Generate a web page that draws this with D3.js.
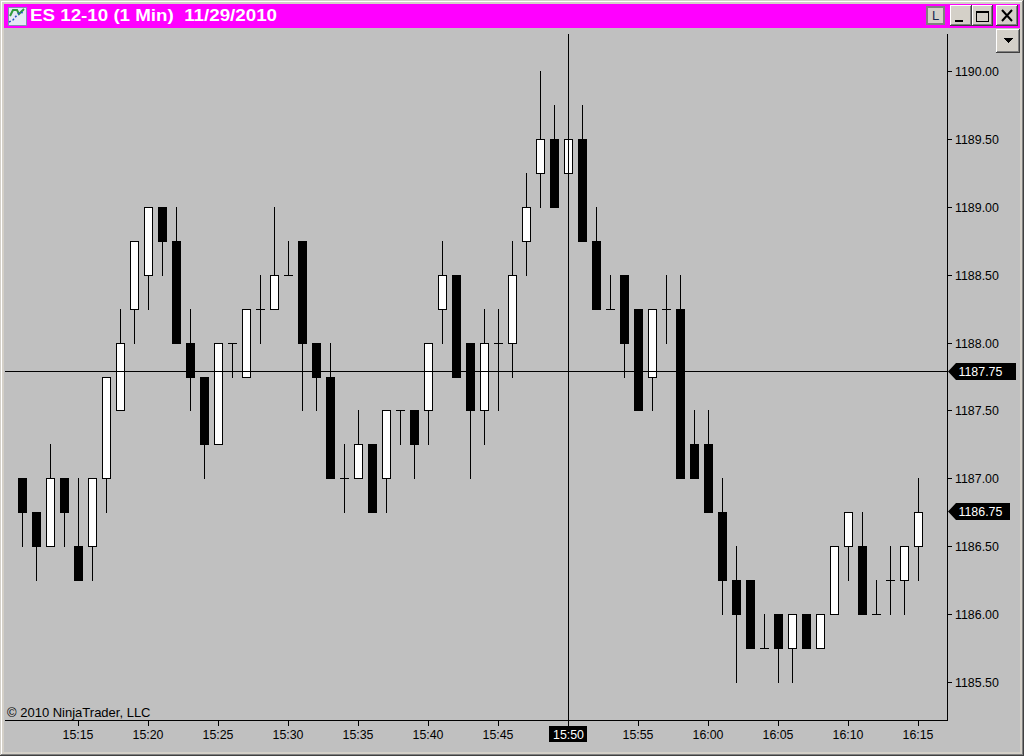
<!DOCTYPE html>
<html><head><meta charset="utf-8">
<script src="https://cdn.jsdelivr.net/npm/d3@7"></script>
<style>html,body{margin:0;padding:0;background:#000;}svg{display:block;}text{font-family:"Liberation Sans",Arial,sans-serif;}</style>
</head><body>
<script>
const title = "ES 12-10 (1 Min)  11/29/2010";
const copyright = "© 2010 NinjaTrader, LLC";
const firstMinute = 15*60+11;
const opens  = [1187,1186.75,1186.5,1187,1186.5,1186.5,1187,1187.5,1188.25,1188.5,1189,1188.75,1188,1187.75,1187.25,1188,1187.75,1188.25,1188.25,1188.5,1188.75,1188,1187.75,1187,1187,1187.25,1187,1187.5,1187.5,1187.5,1188.25,1188.5,1188,1187.5,1188,1188,1188.75,1189.25,1189.5,1189.25,1189.5,1188.75,1188.25,1188.5,1188.25,1187.75,1188.25,1188.25,1187.25,1187.25,1186.75,1186.25,1186.25,1185.75,1186,1185.75,1186,1185.75,1186,1186.5,1186.5,1186,1186.25,1186.25,1186.5];
const highs  = [1187,1186.75,1187.25,1187,1187,1187,1187.75,1188.25,1188.75,1189,1189,1189,1188.25,1187.75,1188,1188,1188.25,1188.5,1189,1188.75,1188.75,1188,1188,1187.25,1187.5,1187.25,1187.5,1187.5,1187.5,1188,1188.75,1188.5,1188,1188.25,1188.25,1188.75,1189.25,1190,1189.75,1189.5,1189.75,1189,1188.5,1188.5,1188.25,1188.25,1188.5,1188.5,1187.5,1187.5,1187,1186.5,1186.25,1186,1186,1186,1186,1186,1186.5,1186.75,1186.75,1186.25,1186.5,1186.5,1187];
const lows   = [1186.5,1186.25,1186.5,1186.5,1186.25,1186.25,1186.75,1187.5,1188,1188.25,1188.5,1188,1187.5,1187,1187.25,1187.75,1187.75,1188,1188.25,1188.5,1187.5,1187.5,1187,1186.75,1187,1186.75,1186.75,1187.25,1187,1187.25,1188,1187.75,1187,1187.25,1187.5,1187.75,1188.5,1189,1189,1189.25,1188.75,1188.25,1188.25,1187.75,1187.5,1187.5,1188,1187,1187,1186.75,1186,1185.5,1185.75,1185.75,1185.5,1185.5,1185.75,1185.75,1186,1186.25,1186,1186,1186,1186,1186.25];
const closes = [1186.75,1186.5,1187,1186.75,1186.25,1187,1187.75,1188,1188.75,1189,1188.75,1188,1187.75,1187.25,1188,1188,1188.25,1188.25,1188.5,1188.5,1188,1187.75,1187,1187,1187.25,1186.75,1187.5,1187.5,1187.25,1188,1188.5,1187.75,1187.5,1188,1188,1188.5,1189,1189.5,1189,1189.5,1188.75,1188.25,1188.25,1188,1187.5,1188.25,1188.25,1187,1187,1186.75,1186.25,1186,1185.75,1185.75,1185.75,1186,1185.75,1186,1186.5,1186.75,1186,1186,1186.25,1186.5,1186.75];
const priceTicks = [1190,1189.5,1189,1188.5,1188,1187.5,1187,1186.5,1186,1185.5];
const timeTicks = ["15:15","15:20","15:25","15:30","15:35","15:40","15:45","15:50","15:55","16:00","16:05","16:10","16:15"];
const crossPrice = 1187.79, crossLabel = 1187.75, crossTime = "15:50", lastPrice = 1186.75;

const toMin = s => { const [h,m]=s.split(":").map(Number); return h*60+m; };
const fmtMin = m => `${Math.floor(m/60)}:${String(m%60).padStart(2,"0")}`;

const W=1024,H=756;
const svg=d3.select("body").append("svg").attr("width",W).attr("height",H).attr("viewBox",`0 0 ${W} ${H}`).attr("shape-rendering","crispEdges");
const x=d3.scaleLinear().domain([firstMinute,toMin("16:15")]).range([22,918]);
const yRaw=d3.scaleLinear().domain([1190,1185.5]).range([71,682]);
const y=p=>Math.round(yRaw(p));
const X=m=>Math.round(x(m));
const axisX=947, axisY=720, plotLeft=5, plotTop=34, labelSize=12.4;

// window frame
const rect=(a,b,w,h,f)=>svg.append("rect").attr("x",a).attr("y",b).attr("width",w).attr("height",h).attr("fill",f);
rect(0,0,W,H,"#d4d0c8");
rect(1,1,W-2,1,"#ffffff");rect(1,1,1,H-2,"#ffffff");
rect(W-1,0,1,H,"#404040");rect(0,H-1,W,1,"#404040");rect(W-2,1,1,H-2,"#808080");rect(1,H-2,W-2,1,"#808080");
rect(4,4,W-8,24,"#ff00ff");
rect(4,28,W-8,H-32,"#c0c0c0");

// title
svg.append("text").attr("x",30).attr("y",21).attr("fill","#fff").attr("font-weight","bold").attr("font-size",16).style("white-space","pre").attr("textLength",247).attr("lengthAdjust","spacingAndGlyphs").text(title);

// icon
const icon=svg.append("g").attr("transform","translate(8,7)");
icon.append("rect").attr("width",18).attr("height",18).attr("fill","#e4e8f4").attr("stroke","#8090b0").attr("x",.5).attr("y",.5);
icon.append("path").attr("d","M2 9 L5 3 L9 3 L11 7 L16 2").attr("fill","none").attr("stroke","#2f9a3a").attr("stroke-width",2).attr("shape-rendering","auto");
icon.append("path").attr("d","M1 15 L5 13 L9 8 L12 5 L15 6").attr("fill","none").attr("stroke","#2050c0").attr("stroke-width",1.5).attr("stroke-dasharray","2 2").attr("shape-rendering","auto");

// buttons
function btn(a,b,w,h){
  rect(a,b,w,h,"#404040");rect(a,b,w-1,h-1,"#ffffff");rect(a+1,b+1,w-2,h-2,"#808080");rect(a+1,b+1,w-3,h-3,"#d4d0c8");
}
rect(926,6,19,19,"#808080");rect(928,8,15,15,"#d4d0c8");
svg.append("text").attr("x",935.5).attr("y",20).attr("text-anchor","middle").attr("font-size",13).attr("fill","#1a2a50").text("L");
btn(950,5,22,21);rect(955,20,8,2,"#000");
btn(972,5,21,21);rect(976,11,13,2,"#000");svg.append("rect").attr("x",976.5).attr("y",11.5).attr("width",12).attr("height",10).attr("fill","none").attr("stroke","#000");
btn(996,5,22,21);
svg.append("path").attr("d","M1002 10 L1012 21 M1012 10 L1002 21").attr("stroke","#000").attr("stroke-width",2).attr("shape-rendering","auto");
btn(996,29,24,24);svg.append("path").attr("d","M1004 38 L1013 38 L1008.5 43 Z").attr("fill","#000");

// copyright
svg.append("text").attr("x",7).attr("y",717).attr("font-size",13).attr("fill","#000").text(copyright);

// candles
const bars=d3.range(opens.length).map(i=>({m:firstMinute+i,o:opens[i],h:highs[i],l:lows[i],c:closes[i]}));
const g=svg.append("g");
g.selectAll("rect.wick").data(bars).join("rect").attr("class","wick")
  .attr("x",d=>X(d.m)).attr("width",1).attr("y",d=>y(d.h)).attr("height",d=>y(d.l)-y(d.h)+1).attr("fill","#000");
g.selectAll("rect.body").data(bars.filter(d=>d.o!==d.c)).join("rect").attr("class","body")
  .attr("x",d=>X(d.m)-4).attr("width",9)
  .attr("y",d=>y(Math.max(d.o,d.c))).attr("height",d=>y(Math.min(d.o,d.c))-y(Math.max(d.o,d.c))+1)
  .attr("fill","#000");
g.selectAll("rect.inner").data(bars.filter(d=>d.c>d.o)).join("rect").attr("class","inner")
  .attr("x",d=>X(d.m)-3).attr("width",7)
  .attr("y",d=>y(d.c)+1).attr("height",d=>y(d.o)-y(d.c)-1).attr("fill","#fff");
g.selectAll("rect.doji").data(bars.filter(d=>d.o===d.c)).join("rect").attr("class","doji")
  .attr("x",d=>X(d.m)-4).attr("width",9).attr("y",d=>y(d.c)).attr("height",1).attr("fill","#000");

// crosshair
rect(plotLeft,y(crossPrice),axisX-plotLeft,1,"#000");
rect(X(toMin(crossTime)),plotTop,1,axisY-plotTop,"#000");

// axes
const yAxis=svg.append("g").attr("transform",`translate(${axisX},0)`)
  .call(d3.axisRight(yRaw).tickValues(priceTicks).tickFormat(d3.format(".2f")).tickSize(5).tickPadding(3));
yAxis.select(".domain").remove();
yAxis.selectAll("text").attr("font-size",labelSize).attr("fill","#000").attr("font-family","Liberation Sans").attr("dy",0).attr("y",5);
yAxis.selectAll(".tick").attr("transform",d=>`translate(0,${y(d)})`);
yAxis.selectAll("line").attr("stroke","#000").attr("y1",.5).attr("y2",.5).attr("x1",0.5);
rect(axisX,plotTop,1,axisY-plotTop+1,"#000");

const xAxis=svg.append("g").attr("transform",`translate(0,${axisY})`)
  .call(d3.axisBottom(x).tickValues(timeTicks.map(toMin)).tickFormat(fmtMin).tickSize(6).tickPadding(3));
xAxis.select(".domain").remove();
xAxis.selectAll("text").attr("font-size",labelSize).attr("fill","#000").attr("font-family","Liberation Sans").attr("dy",0).attr("y",19);
xAxis.selectAll(".tick").attr("transform",d=>`translate(${X(d)},0)`);
xAxis.selectAll("line").attr("stroke","#000").attr("x1",.5).attr("x2",.5);
rect(plotLeft,axisY,axisX-plotLeft+1,1,"#000");

// markers
function marker(c,w,p){
  svg.append("path").attr("d",`M948 ${c+.5} L956 ${c-8} L${w} ${c-8} L${w} ${c+9} L956 ${c+9} Z`).attr("fill","#000").attr("shape-rendering","auto");
  svg.append("text").attr("x",958.5).attr("y",c+5).attr("font-size",labelSize).attr("fill","#fff").text(d3.format(".2f")(p));
}
marker(y(crossPrice),1016,crossLabel);
marker(y(lastPrice)-1,1010,lastPrice);
const cx=X(toMin(crossTime));
rect(cx-19,726,38,16,"#000");
svg.append("text").attr("x",cx+.5).attr("y",739).attr("text-anchor","middle").attr("font-size",labelSize).attr("fill","#fff").text(crossTime);
</script>
</body></html>
